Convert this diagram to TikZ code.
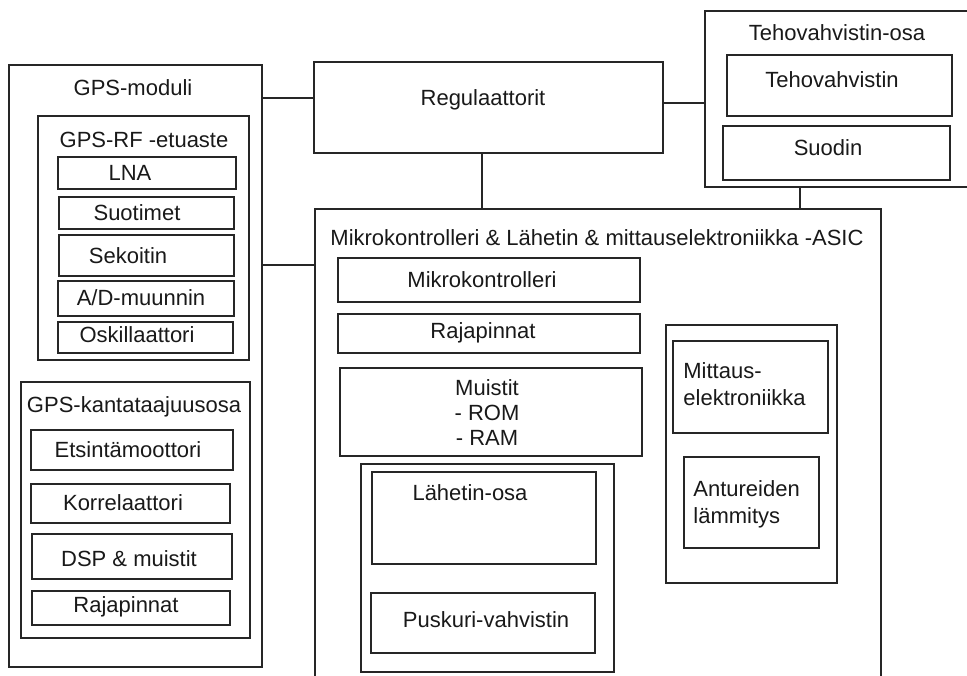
\documentclass[tikz,border=0pt]{standalone}
\usepackage{fontspec}
\setmainfont{Liberation Sans}
\usetikzlibrary{positioning,fit}

\begin{document}
\begin{tikzpicture}[x=0.5pt,y=-0.5pt,
		box/.style={draw=black!85, line width=0.9pt, inner sep=0pt},
		lbl/.style={text=black!90, inner sep=0pt},
		font=\fontsize{11}{13.6}\selectfont]
	\useasboundingbox (0,0) rectangle (967,675);

	% GPS-moduli
	\node[box, fit={(9,65) (262,667)}] (gps) {};
	\node[lbl] (gpst) at (133,88) {GPS-moduli};
	\node[box, fit={(38,116) (249,360)}] (rf) {};
	\node[lbl] (rft) at (144,140) {GPS-RF -etuaste};
	\node[box, fit={(58,157) (236,189)}] (lna) {};
	\node[lbl] (lnat) at (130,173) {LNA};
	\node[box, fit={(59,197) (234,229)}] (suot) {};
	\node[lbl] (suott) at (137,213) {Suotimet};
	\node[box, fit={(59,235) (234,276)}] (sek) {};
	\node[lbl] (sekt) at (128,256) {Sekoitin};
	\node[box, fit={(58,281) (234,316)}] (ad) {};
	\node[lbl] (adt) at (141,298) {A/D-muunnin};
	\node[box, fit={(58,322) (233,353)}] (osk) {};
	\node[lbl] (oskt) at (137,335) {Oskillaattori};

	\node[box, fit={(21,382) (250,638)}] (kanta) {};
	\node[lbl] (kantat) at (134,407) {GPS-kantataajuusosa};
	\node[box, fit={(31,430) (233,470)}] (etsi) {};
	\node[lbl] (etsit) at (128,450) {Etsintämoottori};
	\node[box, fit={(31,484) (230,523)}] (korr) {};
	\node[lbl] (korrt) at (123,503) {Korrelaattori};
	\node[box, fit={(32,534) (232,579)}] (dsp) {};
	\node[lbl] (dspt) at (129,559) {DSP \& muistit};
	\node[box, fit={(32,591) (230,625)}] (raja) {};
	\node[lbl] (rajat) at (126,607) {Rajapinnat};

	% regulaattorit ja tehovahvistin
	\node[box, fit={(314,62) (663,153)}] (reg) {};
	\node[lbl] (regt) at (483,100) {Regulaattorit};
	\node[box, fit={(705,11) (985,187)}] (teho) {};
	\node[lbl] (tehot) at (837,33) {Tehovahvistin-osa};
	\node[box, fit={(727,55) (952,116)}] (tehov) {};
	\node[lbl] (tehovt) at (832,80) {Tehovahvistin};
	\node[box, fit={(723,126) (950,180)}] (suod) {};
	\node[lbl] (suodt) at (828,148) {Suodin};

	% ASIC
	\node[box, fit={(315,209) (881,700)}] (asic) {};
	\node[lbl] (asict) at (597,238) {Mikrokontrolleri \& Lähetin \& mittauselektroniikka -ASIC};
	\node[box, fit={(338,258) (640,302)}] (mikro) {};
	\node[lbl] (mikrot) at (482,280) {Mikrokontrolleri};
	\node[box, fit={(338,314) (640,353)}] (rajaa) {};
	\node[lbl] (rajaat) at (483,333) {Rajapinnat};
	\node[box, fit={(340,368) (642,456)}] (muisti) {};
	\node[lbl, align=center, font=\fontsize{11}{12.5}\selectfont] (muistit) at (487,413) {Muistit\\- ROM\\- RAM};

	\node[box, fit={(361,464) (614,672)}] (lah) {};
	\node[box, fit={(372,472) (596,564)}] (laho) {};
	\node[lbl] (lahot) at (470,493) {Lähetin-osa};
	\node[box, fit={(371,593) (595,653)}] (pusk) {};
	\node[lbl] (puskt) at (486,620) {Puskuri-vahvistin};

	\node[box, fit={(666,325) (837,583)}] (mitt) {};
	\node[box, fit={(673,341) (828,433)}] (mittel) {};
	\node[lbl, align=left, anchor=west] (mittelt) at (683,384) {Mittaus-\\elektroniikka};
	\node[box, fit={(684,457) (819,548)}] (antur) {};
	\node[lbl, align=left, anchor=west] (anturt) at (693,504) {Antureiden\\lämmitys};

	% yhteydet
	\draw[line width=0.9pt, black!85] (gps.east |- 0,98) -- (reg.west |- 0,98);
	\draw[line width=0.9pt, black!85] (gps.east |- 0,265) -- (asic.west |- 0,265);
	\draw[line width=0.9pt, black!85] (reg.east |- 0,103) -- (teho.west |- 0,103);
	\draw[line width=0.9pt, black!85] (reg.south -| 482,0) -- (asic.north -| 482,0);
	\draw[line width=0.9pt, black!85] (teho.south -| 800,0) -- (asic.north -| 800,0);
\end{tikzpicture}
\end{document}
